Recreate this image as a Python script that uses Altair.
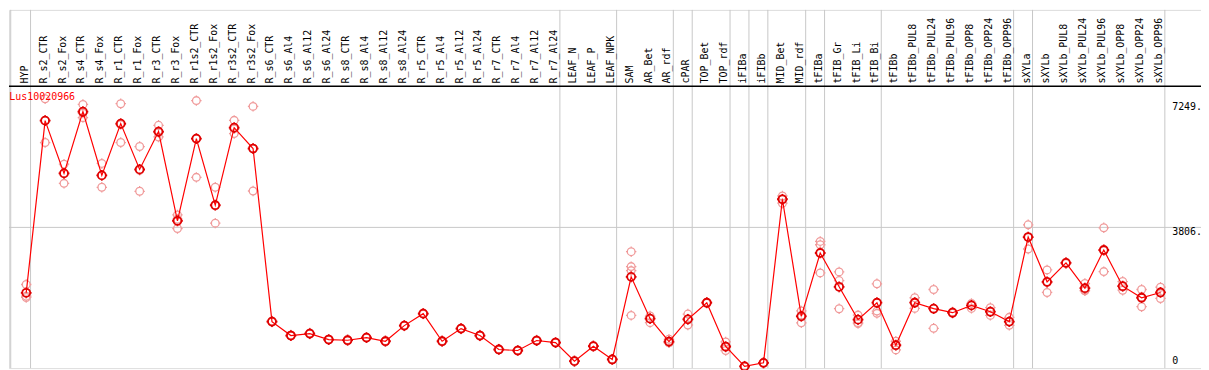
import altair as alt
import pandas as pd

categories = [
    "HYP", "R_s2_CTR", "R_s2_Fox", "R_s4_CTR", "R_s4_Fox", "R_r1_CTR", "R_r1_Fox",
    "R_r3_CTR", "R_r3_Fox", "R_r1s2_CTR", "R_r1s2_Fox", "R_r3s2_CTR", "R_r3s2_Fox",
    "R_s6_CTR", "R_s6_Al4", "R_s6_Al12", "R_s6_Al24", "R_s8_CTR", "R_s8_Al4",
    "R_s8_Al12", "R_s8_Al24", "R_r5_CTR", "R_r5_Al4", "R_r5_Al12", "R_r5_Al24",
    "R_r7_CTR", "R_r7_Al4", "R_r7_Al12", "R_r7_Al24", "LEAF_N", "LEAF_P", "LEAF_NPK",
    "SAM", "AR_Bet", "AR_rdf", "cPAR", "TOP_Bet", "TOP_rdf", "iFIBa", "iFIBb",
    "MID_Bet", "MID_rdf", "tFIBa", "tFIB_Gr", "tFIB_Li", "tFIB_Bi", "tFIBb",
    "tFIBb_PUL8", "tFIBb_PUL24", "tFIBb_PUL96", "tFIBb_OPP8", "tFIBb_OPP24",
    "tFIBb_OPP96", "sXYLa", "sXYLb", "sXYLb_PUL8", "sXYLb_PUL24", "sXYLb_PUL96",
    "sXYLb_OPP8", "sXYLb_OPP24", "sXYLb_OPP96",
]

means = [
    2056, 6663, 5251, 6903, 5198, 6583, 5358, 6370, 3981, 6183, 4399, 6476, 5917,
    1284, 911, 964, 804, 786, 857, 759, 1177, 1497, 759, 1097, 911,
    538, 511, 778, 724, 226, 626, 272,
    2482, 1363, 751, 1345, 1790, 618, 85, 181,
    4559, 1425, 3121, 2216, 1337, 1790, 652,
    1790, 1630, 1523, 1718, 1550, 1284,
    3547, 2349, 2855, 2178, 3201, 2232, 1923, 2064,
]

replicates = [
    [2277, 1965, 1931], [7249, 6671, 6077], [5499, 5259, 4985], [7097, 6865, 6743],
    [5518, 5198, 4879], [7116, 6556, 6077], [5970, 5331, 4772], [6538, 6346, 6226],
    [4141, 4026, 3776], [7200, 6176, 5145], [4879, 4399, 3920], [6671, 6442, 6317],
    [7044, 5925, 4780], [1301, 1276, 1275], [925, 905, 903], [980, 960, 952],
    [815, 801, 796], [798, 784, 776], [868, 855, 848], [771, 757, 749],
    [1190, 1175, 1166], [1512, 1494, 1485], [770, 758, 749], [1110, 1095, 1086],
    [924, 910, 899], [550, 536, 528], [522, 510, 501], [790, 776, 768],
    [735, 722, 715], [238, 224, 216], [638, 624, 616], [284, 270, 262],
    [3156, 2756, 2650, 1451], [1433, 1371, 1257], [812, 724, 717], [1486, 1355, 1193],
    [1805, 1788, 1777], [740, 599, 511], [97, 84, 74], [193, 180, 170],
    [4647, 4567, 4453], [1571, 1452, 1252], [3430, 3342, 2588], [2615, 2383, 1630],
    [1459, 1257, 1230], [2296, 1566, 1505], [759, 652, 527], [1923, 1806, 1638],
    [2144, 1638, 1105], [1540, 1520, 1510], [1771, 1718, 1638], [1656, 1545, 1451],
    [1398, 1278, 1185], [3875, 3539, 3228], [2668, 2330, 2064], [2870, 2855, 2840],
    [2303, 2122, 2109], [3795, 3182, 2623], [2357, 2224, 2125], [2144, 1941, 1683],
    [2205, 2064, 1904],
]

group_last = ["HYP", "R_r7_Al24", "LEAF_NPK", "AR_rdf", "cPAR", "TOP_rdf", "iFIBa",
              "iFIBb", "MID_rdf", "tFIBa", "tFIB_Bi", "tFIBb_OPP96", "sXYLa", "sXYLb_OPP96"]

gene_name = "Lus10020966"
ref_line_value = 3806
scale_labels = ["7249.", "3806.", "0"]
scale_values = [7249, 3806, 0]

# ---------------------------------------------------------------
W, H = 1198, 360
FONT = "DejaVu Sans Mono"

mean_df = pd.DataFrame({"idx": list(range(len(categories))), "cat": categories, "mean": means})
rep_rows = []
for i, reps in enumerate(replicates):
    for v in reps:
        rep_rows.append({"idx": i, "value": v})
rep_df = pd.DataFrame(rep_rows)
bound_pos = [-1 + 0.18] + [categories.index(c) + 0.23 for c in group_last]
bound_df = pd.DataFrame({"pos": bound_pos})

xs = alt.Scale(domain=[-0.9105, 62.142], nice=False, zero=False)
ys = alt.Scale(domain=[40.0, 9627.2], nice=False, zero=False)

vlines = alt.Chart(bound_df).mark_rule(color="#c8c8c8", strokeWidth=1).encode(
    x=alt.X("pos:Q", scale=xs, axis=None), y=alt.value(0), y2=alt.value(H))

hline = alt.Chart(pd.DataFrame({"v": [ref_line_value]})).mark_rule(
    color="#c8c8c8", strokeWidth=1).encode(
    y=alt.Y("v:Q", scale=ys, axis=None), x=alt.value(0), x2=alt.value(W))

header_rule = alt.Chart(pd.DataFrame({"a": [0]})).mark_rule(
    color="black", strokeWidth=1.5).encode(
    y=alt.value(76.7), x=alt.value(0), x2=alt.value(W))

labels = alt.Chart(mean_df).mark_text(
    angle=270, align="left", baseline="alphabetic", dy=1.5,
    font=FONT, fontSize=10, color="black").encode(
    x=alt.X("idx:Q", scale=xs, axis=None), y=alt.value(74), text="cat:N")

ring_path = ("M1,0A1,1,0,1,1,-1,0A1,1,0,1,1,1,0Z"
             "M0,-1L0,-1.35M0,1L0,1.35M-1,0L-1.35,0M1,0L1.35,0")

reps_layer = alt.Chart(rep_df).mark_point(
    shape=ring_path, filled=False, color="#f09a9a", size=60, strokeWidth=1.3, opacity=1).encode(
    x=alt.X("idx:Q", scale=xs, axis=None), y=alt.Y("value:Q", scale=ys, axis=None))

line = alt.Chart(mean_df).mark_line(color="#ff0000", strokeWidth=1.2).encode(
    x=alt.X("idx:Q", scale=xs, axis=None), y=alt.Y("mean:Q", scale=ys, axis=None))

mean_pts = alt.Chart(mean_df).mark_point(
    shape=ring_path, filled=False, color="#e00000", size=64, strokeWidth=1.8, opacity=1).encode(
    x=alt.X("idx:Q", scale=xs, axis=None), y=alt.Y("mean:Q", scale=ys, axis=None))

gene_text = alt.Chart(pd.DataFrame({"t": [gene_name]})).mark_text(
    align="left", baseline="middle", font=FONT, fontSize=10, color="#ff0000").encode(
    x=alt.value(0.3), y=alt.value(87.7), text="t:N")

scale_dy = [8.4, 4.7, -8.8]
scale_layers = []
for lab, val, dy in zip(scale_labels, scale_values, scale_dy):
    scale_layers.append(
        alt.Chart(pd.DataFrame({"v": [val], "t": [lab]})).mark_text(
            align="left", baseline="middle", dy=dy, font=FONT, fontSize=10, color="black").encode(
            x=alt.value(1169), y=alt.Y("v:Q", scale=ys, axis=None), text="t:N"))

chart = alt.layer(
    vlines, hline, header_rule, labels, reps_layer, line, mean_pts, gene_text, *scale_layers
).properties(
    width=W, height=H,
    autosize=alt.AutoSizeParams(type="none"),
    padding={"left": 1, "top": 1, "right": 0, "bottom": 1},
).configure_view(stroke="black", strokeWidth=1.5).configure(background="white")

chart.save("out.html", embed_options={"renderer": "svg", "actions": False})
